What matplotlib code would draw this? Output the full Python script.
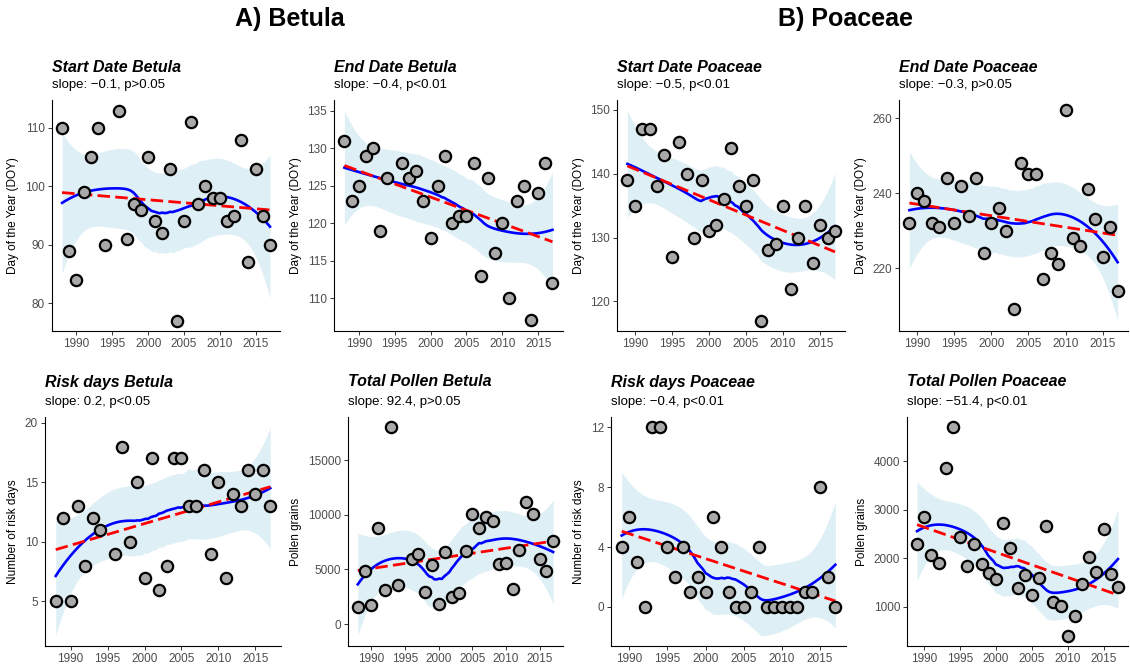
import numpy as np
import matplotlib
matplotlib.use("Agg")
import matplotlib.pyplot as plt

plt.rcParams['font.family'] = ['Liberation Sans', 'DejaVu Sans']

# ---------------- data ----------------
years_betula = [1988, 1989, 1990, 1991, 1992, 1993, 1994, 1996, 1997, 1998, 1999, 2000,
                2001, 2002, 2003, 2004, 2005, 2006, 2007, 2008, 2009, 2010, 2011, 2012,
                2013, 2014, 2015, 2016, 2017]
years_poaceae = list(range(1989, 2018))

start_betula = [110, 89, 84, 99, 105, 110, 90, 113, 91, 97, 96, 105, 94, 92, 103, 77,
                94, 111, 97, 100, 98, 98, 94, 95, 108, 87, 103, 95, 90]
end_betula = [131, 123, 125, 129, 130, 119, 126, 128, 126, 127, 123, 118, 125, 129, 120,
              121, 121, 128, 113, 126, 116, 120, 110, 123, 125, 107, 124, 128, 112]
start_poaceae = [139, 135, 147, 147, 138, 143, 127, 145, 140, 130, 139, 131, 132, 136, 144,
                 138, 135, 139, 117, 128, 129, 135, 122, 130, 135, 126, 132, 130, 131]
end_poaceae = [232, 240, 238, 232, 231, 244, 232, 242, 234, 244, 224, 232, 236, 230, 209,
               248, 245, 245, 217, 224, 221, 262, 228, 226, 241, 233, 223, 231, 214]
risk_betula = [5, 12, 5, 13, 8, 12, 11, 9, 18, 10, 15, 7, 17, 6, 8, 17, 17, 13, 13, 16,
               9, 15, 7, 14, 13, 16, 14, 16, 13]
pollen_betula = [1600, 4900, 1700, 8800, 3100, 18000, 3550, 6000, 6400, 2950, 5400, 1800,
                 6600, 2500, 2800, 6650, 10100, 8750, 9800, 9400, 5500, 5600, 3250, 6800,
                 11200, 10100, 6000, 4900, 7600]
risk_poaceae = [4, 6, 3, 0, 12, 12, 4, 2, 4, 1, 2, 1, 6, 4, 1, 0, 0, 1, 4, 0, 0, 0, 0, 0,
                1, 1, 8, 2, 0]
pollen_poaceae = [2300, 2850, 2070, 1900, 3870, 4700, 2450, 1850, 2300, 1880, 1690, 1570,
                  2720, 2220, 1390, 1660, 1250, 1600, 2660, 1100, 1010, 410, 810, 1470,
                  2030, 1730, 2600, 1670, 1420]

panel_titles = ["Start Date Betula", "End Date Betula", "Start Date Poaceae", "End Date Poaceae",
                "Risk days Betula", "Total Pollen Betula", "Risk days Poaceae", "Total Pollen Poaceae"]
panel_subtitles = ["slope: \u22120.1, p>0.05", "slope: \u22120.4, p<0.01",
                   "slope: \u22120.5, p<0.01", "slope: \u22120.3, p>0.05",
                   "slope: 0.2, p<0.05", "slope: 92.4, p>0.05",
                   "slope: \u22120.4, p<0.01", "slope: \u221251.4, p<0.01"]
y_labels = ["Day of the Year (DOY)"] * 4 + ["Number of risk days", "Pollen grains",
                                            "Number of risk days", "Pollen grains"]
y_ticks = [[80, 90, 100, 110], [110, 115, 120, 125, 130, 135], [120, 130, 140, 150],
           [220, 240, 260], [5, 10, 15, 20], [0, 5000, 10000, 15000], [0, 4, 8, 12],
           [1000, 2000, 3000, 4000]]
x_ticks = [1990, 1995, 2000, 2005, 2010, 2015]
group_titles = ["A) Betula", "B) Poaceae"]

panel_x = [years_betula, years_betula, years_poaceae, years_poaceae,
           years_betula, years_betula, years_poaceae, years_poaceae]
panel_y = [start_betula, end_betula, start_poaceae, end_poaceae,
           risk_betula, pollen_betula, risk_poaceae, pollen_poaceae]

SPAN = 0.75  # loess default span (ggplot2 geom_smooth)


def t_quantile(p, nu):
    from math import sqrt, log
    r = sqrt(-2.0 * log(1 - p))
    z = r - (2.515517 + 0.802853 * r + 0.010328 * r * r) / \
        (1 + 1.432788 * r + 0.189269 * r * r + 0.001308 * r ** 3)
    g1 = (z ** 3 + z) / 4
    g2 = (5 * z ** 5 + 16 * z ** 3 + 3 * z) / 96
    g3 = (3 * z ** 7 + 19 * z ** 5 + 17 * z ** 3 - 15 * z) / 384
    g4 = (79 * z ** 9 + 776 * z ** 7 + 1482 * z ** 5 - 1920 * z ** 3 - 945 * z) / 92160
    return z + g1 / nu + g2 / nu ** 2 + g3 / nu ** 3 + g4 / nu ** 4


def loess(x, y, xnew, span):
    x = np.asarray(x, float)
    y = np.asarray(y, float)
    n = len(x)
    q = int(np.floor(n * span))

    def lvec(x0):
        d = np.abs(x - x0)
        h = np.sort(d)[q - 1] * 1.0001
        w = np.clip(1 - (d / h) ** 3, 0, None) ** 3
        X = np.column_stack([np.ones(n), x - x0, (x - x0) ** 2])
        A = X.T @ (w[:, None] * X)
        return np.linalg.solve(A, (X * w[:, None]).T)[0]

    L = np.array([lvec(xi) for xi in x])
    res = y - L @ y
    M = (np.eye(n) - L).T @ (np.eye(n) - L)
    d1 = np.trace(M)
    d2 = np.trace(M @ M)
    sigma = np.sqrt(np.sum(res ** 2) / d1)
    dfree = d1 ** 2 / d2
    Ln = np.array([lvec(x0) for x0 in xnew])
    fit = Ln @ y
    se = sigma * np.sqrt(np.sum(Ln ** 2, axis=1))
    tq = t_quantile(0.975, dfree)
    return fit, fit - tq * se, fit + tq * se


W, H = 1130, 668
fig = plt.figure(figsize=(W / 100, H / 100), dpi=100)

lefts = [51.7, 334, 617, 899, 45, 348, 611, 907]
rights = [280.4, 562.9, 845.4, 1128, 281, 562.9, 846, 1128]
tops = [100] * 4 + [417] * 4
bottoms = [331] * 4 + [646] * 4
title_y = [67] * 4 + [382] * 4
sub_y = [85] * 4 + [402] * 4

for i in range(8):
    x = np.asarray(panel_x[i], float)
    y = np.asarray(panel_y[i], float)
    ax = fig.add_axes([lefts[i] / W, 1 - bottoms[i] / H,
                       (rights[i] - lefts[i]) / W, (bottoms[i] - tops[i]) / H])
    xs = np.linspace(x.min(), x.max(), 80)
    fit, lo, hi = loess(x, y, xs, SPAN)
    coef = np.polyfit(x, y, 1)
    lin = np.polyval(coef, xs)
    ax.fill_between(xs, lo, hi, color='lightblue', alpha=0.4, lw=0, zorder=1)
    ax.plot(xs, fit, color='blue', lw=1.9, zorder=2)
    ax.plot(xs, lin, color='red', lw=2.0, ls=(0, (4.5, 1.9)), zorder=3)
    ax.scatter(x, y, s=66, c='darkgray', edgecolors='black', linewidths=1.6, zorder=5)

    xr = x.max() - x.min()
    ax.set_xlim(x.min() - 0.05 * xr, x.max() + 0.05 * xr)
    allv = np.concatenate([y, lo, hi])
    yr = allv.max() - allv.min()
    ax.set_ylim(allv.min() - 0.05 * yr, allv.max() + 0.05 * yr)
    ax.set_xticks(x_ticks)
    ax.set_yticks(y_ticks[i])
    for s in ['top', 'right']:
        ax.spines[s].set_visible(False)
    for s in ['left', 'bottom']:
        ax.spines[s].set_linewidth(0.8)
        ax.spines[s].set_color('black')
    ax.tick_params(axis='both', direction='out', length=3, width=0.7, color='#333333',
                   labelsize=8.5, labelcolor='#4d4d4d', pad=2)
    ax.set_ylabel(y_labels[i], fontsize=8.5, color='black', labelpad=4)
    fig.text(lefts[i] / W, 1 - title_y[i] / H, panel_titles[i], fontsize=11.5,
             fontweight='bold', fontstyle='italic', ha='left', va='center')
    fig.text(lefts[i] / W, 1 - sub_y[i] / H, panel_subtitles[i], fontsize=9.5,
             ha='left', va='center')

fig.text(290 / W, 1 - 19 / H, group_titles[0], fontsize=18, fontweight='bold',
         ha='center', va='center')
fig.text(846 / W, 1 - 19 / H, group_titles[1], fontsize=18, fontweight='bold',
         ha='center', va='center')

fig.savefig("out.png", dpi=100)
